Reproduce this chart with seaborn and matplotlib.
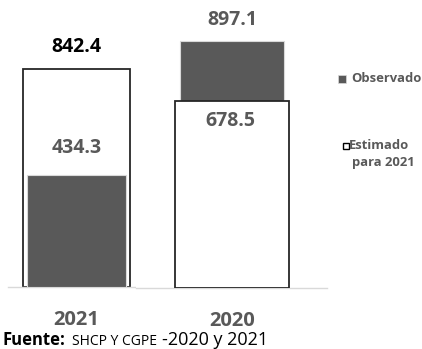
import matplotlib
matplotlib.use("Agg")
import matplotlib.pyplot as plt
from matplotlib.patches import Rectangle
import seaborn as sns
import pandas as pd

# Data
years = ["2021", "2020"]
observado = [434.3, 897.1]
estimado = [842.4, 678.5]

df = pd.DataFrame({"anio": years, "Observado": observado, "Estimado": estimado})

sns.set_style("white")
plt.rcParams["font.family"] = ["Open Sans", "DejaVu Sans"]

W, H = 422, 349
fig = plt.figure(figsize=(W / 100, H / 100), dpi=100)

DARK = "#595959"
GRID = "#d9d9d9"


def px_axes(left, right, base, top=0):
    return fig.add_axes([left / W, (H - base) / H, (right - left) / W, (base - top) / H])


def style_axis(ax):
    for s in ("top", "left", "right"):
        ax.spines[s].set_visible(False)
    ax.spines["bottom"].set_color(GRID)
    ax.spines["bottom"].set_linewidth(1.0)
    ax.set_yticks([])
    ax.set_xlabel("")
    ax.set_ylabel("")
    ax.tick_params(axis="x", which="major", length=0, pad=17)
    for lbl in ax.get_xticklabels():
        lbl.set_fontsize(14.5)
        lbl.set_fontweight("bold")
        lbl.set_color(DARK)


# 2021 panel
ax1 = px_axes(8, 136, 286.7)
d1 = df[df["anio"] == "2021"]
sns.barplot(data=d1, x="anio", y="Estimado", color="white", saturation=1,
            width=0.8, edgecolor="#262626", linewidth=1.3, ax=ax1, zorder=2)
sns.barplot(data=d1, x="anio", y="Observado", color=DARK, saturation=1,
            width=0.74, edgecolor=GRID, linewidth=0.8, ax=ax1, zorder=3)
ax1.set_ylim(0, 286.7 / 0.258)
ax1.set_xlim(-0.512, 0.445)
style_axis(ax1)
v_est, v_obs = d1["Estimado"].iloc[0], d1["Observado"].iloc[0]
ax1.annotate(f"{v_est:.1f}", (0, v_est), xytext=(0, 16), textcoords="offset points",
             ha="center", va="center", fontsize=14, fontweight="bold", color="black")
ax1.annotate(f"{v_obs:.1f}", (0, v_obs), xytext=(0, 19), textcoords="offset points",
             ha="center", va="center", fontsize=14, fontweight="bold", color=DARK)

# 2020 panel
ax2 = px_axes(136, 327, 287.5)
d2 = df[df["anio"] == "2020"]
sns.barplot(data=d2, x="anio", y="Observado", color=DARK, saturation=1,
            width=0.73, edgecolor=GRID, linewidth=0.8, ax=ax2, zorder=2)
sns.barplot(data=d2, x="anio", y="Estimado", color="white", saturation=1,
            width=0.8, edgecolor="#262626", linewidth=1.3, ax=ax2, zorder=3)
ax2.set_ylim(0, 287.5 / 0.275)
ax2.set_xlim(-0.674, 0.667)
style_axis(ax2)
ax2.set_xticks([-0.674, -0.189, 0.667], minor=True)
ax2.tick_params(axis="x", which="minor", length=5.8, width=1.0, color=GRID, direction="out")
v_est, v_obs = d2["Estimado"].iloc[0], d2["Observado"].iloc[0]
ax2.annotate(f"{v_obs:.1f}", (0, v_obs), xytext=(0, 15), textcoords="offset points",
             ha="center", va="center", fontsize=14, fontweight="bold", color=DARK)
ax2.annotate(f"{v_est:.1f}", (0, v_est), xytext=(-1, -14.5), textcoords="offset points",
             ha="center", va="center", fontsize=14, fontweight="bold", color=DARK)


def fx(x):
    return x / W


def fy(y):
    return (H - y) / H


# Legend
fig.patches.append(Rectangle((fx(337.5), fy(82.5)), 8 / W, 8 / H, transform=fig.transFigure,
                             facecolor=DARK, edgecolor=GRID, linewidth=0.5))
fig.text(fx(351.5), fy(78), "Observado", ha="left", va="center", fontsize=9.4,
         fontweight="bold", color=DARK)
fig.patches.append(Rectangle((fx(342.5), fy(148.5)), 6 / W, 6 / H, transform=fig.transFigure,
                             facecolor="white", edgecolor="black", linewidth=1.0))
fig.text(fx(349), fy(145.5), "Estimado", ha="left", va="center", fontsize=9.4,
         fontweight="bold", color=DARK)
fig.text(fx(352.5), fy(163), "para 2021", ha="left", va="center", fontsize=9.4,
         fontweight="bold", color=DARK)

# Source note
fig.text(fx(2), fy(345), "Fuente:", ha="left", va="baseline", fontsize=12,
         fontweight="bold", color="black")
fig.text(fx(72), fy(345), "SHCP Y CGPE", ha="left", va="baseline", fontsize=10,
         color="black")
fig.text(fx(162), fy(345), "-2020 y 2021", ha="left", va="baseline", fontsize=13,
         color="black")

fig.savefig("out.png", dpi=100)
